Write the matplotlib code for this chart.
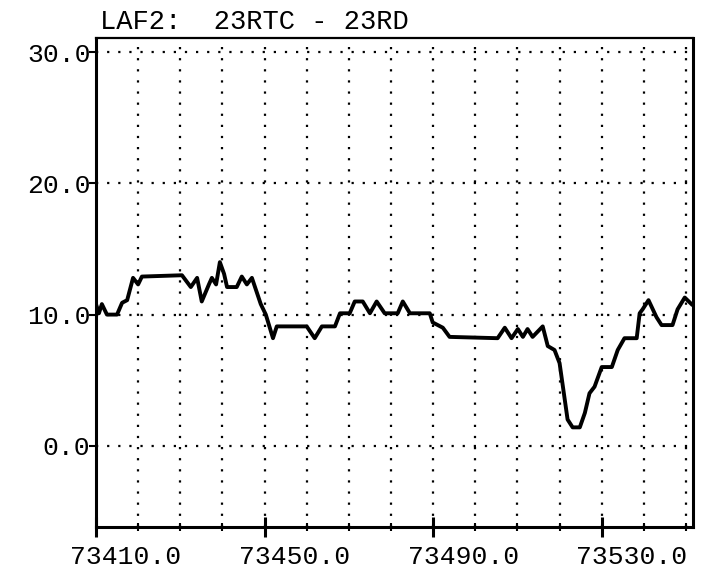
import numpy as np
import matplotlib
matplotlib.use("Agg")
import matplotlib.pyplot as plt
import matplotlib.transforms as mtransforms
from matplotlib.ticker import FixedLocator, FormatStrFormatter

# trace
x = [73410.0, 73410.7, 73411.4, 73412.6, 73415.0, 73416.2, 73417.4, 73418.8,
     73420.0, 73420.9, 73430.4, 73432.5, 73434.0, 73435.1, 73436.8, 73437.5,
     73438.5, 73439.4, 73440.4, 73441.1, 73443.4, 73444.6, 73445.8, 73447.0,
     73449.1, 73450.3, 73452.0, 73452.9, 73460.0, 73461.9, 73463.6, 73466.7,
     73467.9, 73470.2, 73471.4, 73473.3, 73475.0, 73476.6, 73478.5, 73481.6,
     73482.8, 73484.5, 73489.2, 73489.9, 73492.3, 73493.9, 73505.3, 73507.0,
     73508.6, 73510.1, 73511.3, 73512.4, 73513.6, 73516.0, 73517.2, 73518.8,
     73520.0, 73521.9, 73523.1, 73524.8, 73526.0, 73527.1, 73528.3, 73530.0,
     73532.4, 73533.8, 73535.4, 73538.3, 73539.0, 73539.7, 73541.1, 73543.0,
     73544.2, 73546.8, 73548.0, 73549.7, 73551.3]
y = [10.8, 10.1, 10.8, 10.0, 10.0, 10.9, 11.1, 12.8,
     12.3, 12.9, 13.0, 12.1, 12.8, 11.0, 12.3, 12.8,
     12.3, 14.0, 13.1, 12.1, 12.1, 12.9, 12.3, 12.8,
     10.8, 10.0, 8.2, 9.1, 9.1, 8.2, 9.1, 9.1,
     10.1, 10.1, 11.0, 11.0, 10.1, 11.0, 10.1, 10.1,
     11.0, 10.1, 10.1, 9.4, 9.0, 8.3, 8.2, 9.0,
     8.2, 8.9, 8.3, 8.9, 8.3, 9.1, 7.6, 7.3,
     6.3, 2.0, 1.4, 1.4, 2.5, 4.0, 4.5, 6.0,
     6.0, 7.3, 8.2, 8.2, 10.1, 10.4, 11.1, 9.8,
     9.2, 9.2, 10.4, 11.3, 10.8]

xticks = [73410.0, 73450.0, 73490.0, 73530.0]
xgrid = [73420, 73430, 73440, 73460, 73470, 73480, 73500, 73510, 73520,
         73540, 73550]
yticks = [0.0, 10.0, 20.0, 30.0]

title = "LAF2:  23RTC - 23RD"

fig = plt.figure(figsize=(7.13, 5.83), dpi=100)
ax = fig.add_axes([0.1346, 0.096, 0.837, 0.839])

ax.plot(x, y, color="black", linewidth=2.8, solid_joinstyle="round")

ax.set_xlim(73410, 73551.6)
ax.set_ylim(-6.2, 31.1)

ax.xaxis.set_major_locator(FixedLocator(xticks))
ax.xaxis.set_minor_locator(FixedLocator(xgrid))
ax.yaxis.set_major_locator(FixedLocator(yticks))
ax.xaxis.set_major_formatter(FormatStrFormatter("%.1f"))
ax.yaxis.set_major_formatter(FormatStrFormatter("%.1f"))

dots = (0, (1, 4))
ax.grid(True, which="both", axis="x", color="black", linestyle=dots, linewidth=1.6)
ax.grid(True, which="major", axis="y", color="black", linestyle=dots, linewidth=1.6)

ax.tick_params(axis="x", which="major", direction="inout", length=14, width=2.2,
               pad=6)
ax.tick_params(axis="x", which="minor", direction="inout", length=6, width=1.5)
ax.tick_params(axis="y", which="major", direction="out", length=5, width=1.5, pad=-1)

# the labels on the x axis sit a bit to the right of their ticks
shift = mtransforms.ScaledTranslation(0.30, 0, fig.dpi_scale_trans)
for lab in ax.get_xticklabels():
    lab.set_transform(lab.get_transform() + shift)

for lab in ax.get_xticklabels() + ax.get_yticklabels():
    lab.set_family("Liberation Mono")
    lab.set_fontsize(19)

for s in ax.spines.values():
    s.set_linewidth(2.2)
ax.spines["top"].set_linewidth(1.6)

fig.text(0.140, 0.962, title, family="Liberation Mono", fontsize=19.5,
         ha="left", va="center")

fig.savefig("out.png", dpi=100)
